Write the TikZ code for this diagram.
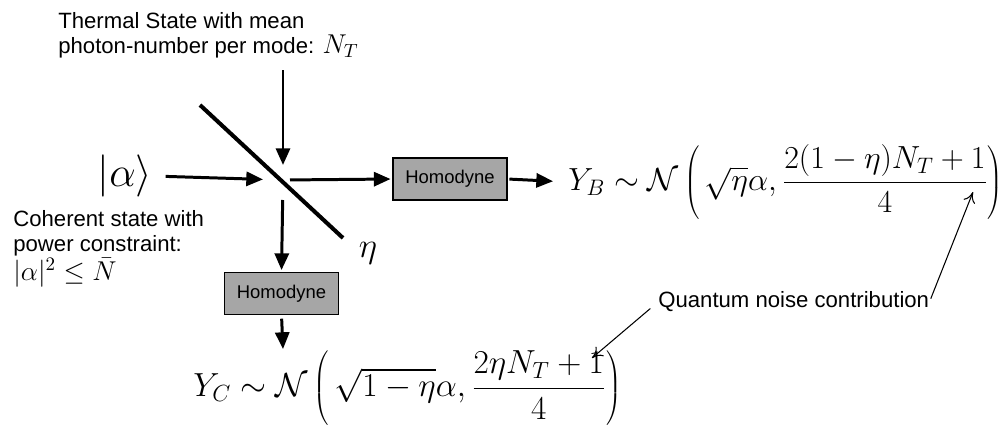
\RequirePackage{fix-cm}
\documentclass[tikz,border=0pt]{standalone}
\usepackage{fontspec}
\newfontfamily\labelfont{Liberation Sans}
\usetikzlibrary{arrows.meta}

\newcommand{\lblmath}[1]{{\fontsize{15.5}{18}\selectfont$#1$}}

\begin{document}
\begin{tikzpicture}[
    x=0.02cm, y=-0.02cm,
    beam/.style={
        -{Triangle[length=9.5pt, width=8pt]}, line width=1.7pt
    },
    note/.style={
        -{To[length=6pt, width=7pt]}, line width=0.6pt
    },
    hbox/.style={
        draw, fill=black!35, line width=0.8pt, minimum width=2.28cm, minimum height=0.84cm,
        inner sep=0pt, font=\labelfont\fontsize{10.5}{12}\selectfont
    },
    lbl/.style={font=\labelfont\fontsize{12.6}{14.4}\selectfont, align=left, inner sep=0pt},
    eq/.style={font=\fontsize{19}{23}\selectfont, inner sep=0pt}
]
\useasboundingbox (0,0) rectangle (1007,437);

% beam splitter
\coordinate (bs) at (283,180);
\draw[line width=2.3pt] (200,105) -- (343,238);

\node[lbl, anchor=north west] (thermal) at (58,12) {Thermal State with mean\\photon-number per mode: \lblmath{N_T}};
\coordinate (thermalin) at (283,70);

\node[eq, font=\fontsize{24}{28}\selectfont] (ket) at (125,176) {$|\alpha\rangle$};
\node[lbl, anchor=north west] (coherent) at (13,210) {Coherent state with\\power constraint:\\\lblmath{|\alpha|^2 \le \bar{N}}};

\node[eq, font=\fontsize{20}{24}\selectfont] (eta) at (368,253) {$\eta$};

\node[hbox] (homB) at (450,179) {Homodyne};
\node[hbox] (homC) at (281.5,293.5) {Homodyne};

\node[eq, font=\fontsize{18.2}{22}\selectfont, anchor=west] (YB) at (568,182) {$\displaystyle Y_B \sim \mathcal{N}\left(\,\sqrt{\eta}\alpha, \frac{2(1-\eta)N_T+1}{4}\right)$};
\node[eq, anchor=west] (YC) at (193,388) {$\displaystyle Y_C \sim \mathcal{N}\left(\,\sqrt{1-\eta}\alpha, \frac{2\eta N_T+1}{4}\right)$};
\coordinate (YCin) at (283,349);

\node[lbl, anchor=west] (noise) at (658,302) {Quantum noise contribution};
\coordinate (noiseB) at (973,192);
\coordinate (noiseC) at (592,358);

% beams
\draw[beam, shorten >=0.3cm] (thermalin) -- (bs);
\draw[beam, shorten <=0.26cm, shorten >=0.4cm] (ket.east) -- (bs);
\draw[beam, shorten <=0.14cm, shorten >=1pt] (bs) -- (homB.west);
\draw[beam, shorten <=1pt, shorten >=0.3cm] (homB.east) -- (YB.west);
\draw[beam, shorten <=0.4cm, shorten >=1pt] (bs) -- (homC.north);
\draw[beam, shorten <=2pt] (homC.south) -- (YCin);

% annotations
\draw[note, shorten <=2pt] (noise.east) -- (noiseB);
\draw[note, shorten <=0.2cm] (noise.west) -- (noiseC);

\end{tikzpicture}
\end{document}
